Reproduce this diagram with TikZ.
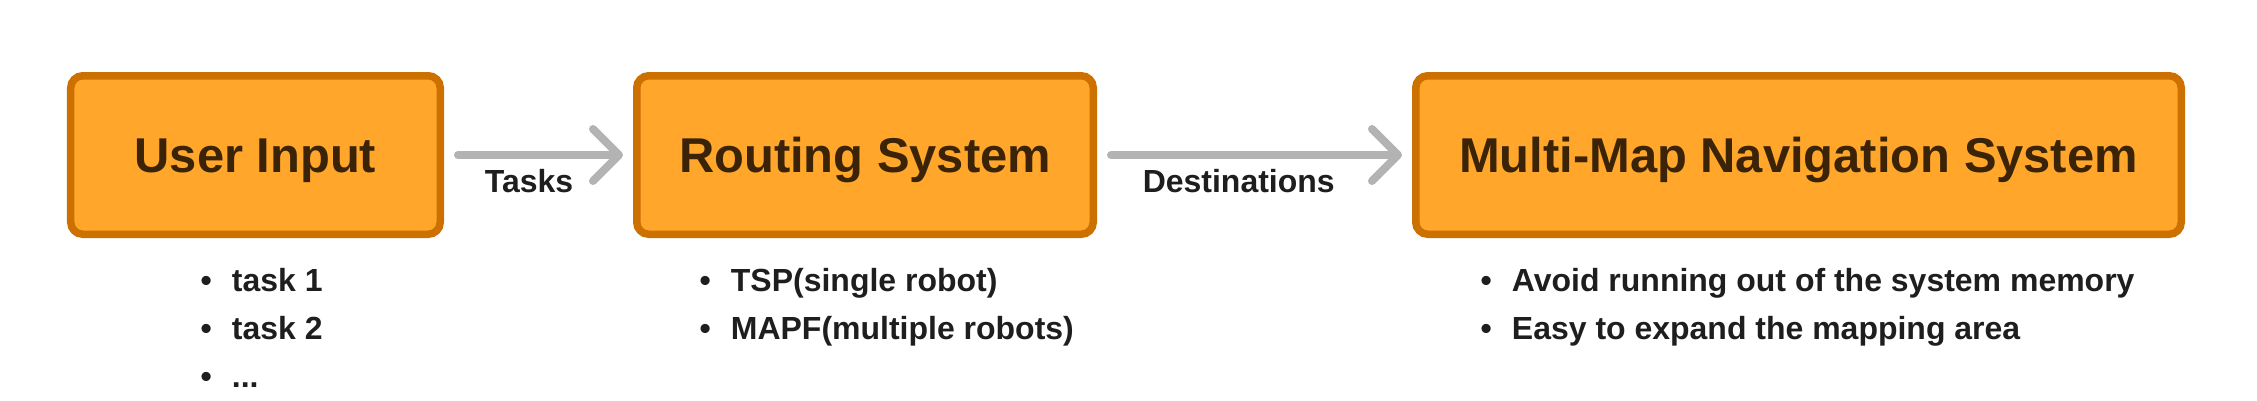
\documentclass[tikz,border=0pt]{standalone}
\usepackage{fontspec}
\setmainfont{Liberation Sans}
\usetikzlibrary{arrows.meta,positioning}

\definecolor{boxfill}{HTML}{FFA62B}
\definecolor{boxline}{HTML}{CC7000}
\definecolor{boxtext}{HTML}{3A2306}
\definecolor{flowgray}{HTML}{B3B3B3}
\definecolor{listtext}{HTML}{1E1E1E}

\tikzset{
  stage/.style={draw=boxline, fill=boxfill, line width=0.075cm, rounded corners=0.12cm,
    minimum height=1.585cm, text height=0.35cm, text depth=0pt,
    text=boxtext, font=\bfseries\fontsize{13.9}{16}\selectfont},
  flow/.style={draw=flowgray, line width=0.08cm, line cap=round,
    -{Straight Barb[length=0.26cm,width=0.52cm,round]}, shorten <=0.14cm, shorten >=0.1cm},
  flowlabel/.style={text=listtext, font=\bfseries\fontsize{9.1}{11}\selectfont, below=-0.01cm, pos=0.45},
  notes/.style={anchor=north west, inner sep=0pt, text=listtext,
    font=\bfseries\fontsize{9.1}{13.66}\selectfont},
}

\begin{document}
\begin{tikzpicture}
    \useasboundingbox (0,0) rectangle (22.57,4.00);

    % Stages
    \node[stage, minimum width=3.695cm] (input) at (2.555,2.45) {User Input};
    \node[stage, minimum width=4.565cm, right=1.89cm of input] (routing) {Routing System};
    \node[stage, minimum width=7.655cm, right=3.15cm of routing] (navigation) {Multi-Map Navigation System};

    % Arrows
    \draw[flow] (input) -- node[flowlabel] {Tasks} (routing);
    \draw[flow] (routing) -- node[flowlabel] {Destinations} (navigation);

    % Notes
    \node[notes] (inputnotes) at (2.00,1.43) {\begin{tabular}{@{}l@{\hspace{5.7pt}}l@{}}
        \textbullet & task 1\\
        \textbullet & task 2\\
        \textbullet & ...
    \end{tabular}};
    \node[notes] (routingnotes) at (6.99,1.43) {\begin{tabular}{@{}l@{\hspace{5.7pt}}l@{}}
        \textbullet & TSP(single robot)\\
        \textbullet & MAPF(multiple robots)
    \end{tabular}};
    \node[notes] (navigationnotes) at (14.80,1.43) {\begin{tabular}{@{}l@{\hspace{5.7pt}}l@{}}
        \textbullet & Avoid running out of the system memory\\
        \textbullet & Easy to expand the mapping area
    \end{tabular}};
\end{tikzpicture}
\end{document}
